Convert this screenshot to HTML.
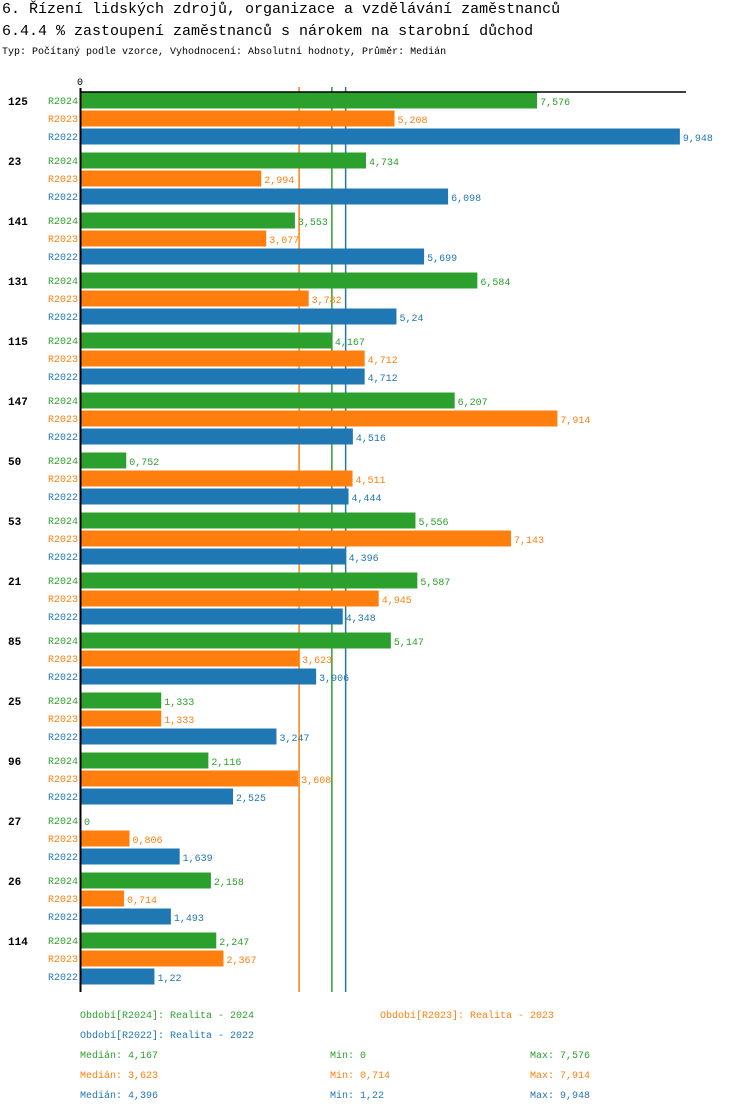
<!DOCTYPE html>
<html><head><meta charset="utf-8"><style>
body{margin:0;background:#fff;font-family:"Liberation Mono",monospace;}
svg text{font-family:"Liberation Mono",monospace;}
</style></head><body>
<svg id="c" width="750" height="1112" xmlns="http://www.w3.org/2000/svg">
<text x="2" y="13" font-size="15" fill="#000">6. Řízení lidských zdrojů, organizace a vzdělávání zaměstnanců</text>
<text x="2" y="35" font-size="15" fill="#000">6.4.4 % zastoupení zaměstnanců s nárokem na starobní důchod</text>
<text x="2" y="54" font-size="10" fill="#000">Typ: Počítaný podle vzorce, Vyhodnocení: Absolutní hodnoty, Průměr: Medián</text>
<g id="g"></g>
<text x="80" y="1018" font-size="10" fill="#2ca02c">Období[R2024]: Realita - 2024</text>
<text x="380" y="1018" font-size="10" fill="#ff7f0e">Období[R2023]: Realita - 2023</text>
<text x="80" y="1038" font-size="10" fill="#1f77b4">Období[R2022]: Realita - 2022</text>
<text x="80" y="1058" font-size="10" fill="#2ca02c">Medián: 4,167</text>
<text x="330" y="1058" font-size="10" fill="#2ca02c">Min: 0</text>
<text x="530" y="1058" font-size="10" fill="#2ca02c">Max: 7,576</text>
<text x="80" y="1078" font-size="10" fill="#ff7f0e">Medián: 3,623</text>
<text x="330" y="1078" font-size="10" fill="#ff7f0e">Min: 0,714</text>
<text x="530" y="1078" font-size="10" fill="#ff7f0e">Max: 7,914</text>
<text x="80" y="1098" font-size="10" fill="#1f77b4">Medián: 4,396</text>
<text x="330" y="1098" font-size="10" fill="#1f77b4">Min: 1,22</text>
<text x="530" y="1098" font-size="10" fill="#1f77b4">Max: 9,948</text>
</svg>
<script>
const categories=["125","23","141","131","115","147","50","53","21","85","25","96","27","26","114"];
const seriesNames=["R2024","R2023","R2022"];
const r2024=[7.576,4.734,3.553,6.584,4.167,6.207,0.752,5.556,5.587,5.147,1.333,2.116,0,2.158,2.247];
const r2023=[5.208,2.994,3.077,3.782,4.712,7.914,4.511,7.143,4.945,3.623,1.333,3.608,0.806,0.714,2.367];
const r2022=[9.948,6.098,5.699,5.24,4.712,4.516,4.444,4.396,4.348,3.906,3.247,2.525,1.639,1.493,1.22];
const medians=[4.167,3.623,4.396];
const colors=["#2ca02c","#ff7f0e","#1f77b4"];
const NS="http://www.w3.org/2000/svg";
const g=document.getElementById('g');
const x0=81,scale=60.2,top0=92;
const xs=v=>x0+v*scale;
function el(t,a){const e=document.createElementNS(NS,t);for(const k in a)e.setAttribute(k,a[k]);g.appendChild(e);return e;}
const fmt=v=>String(v).replace('.',',');
const data=[r2024,r2023,r2022];
const bottom=992;
medians.forEach((m,j)=>{
  const l=el('line',{x1:xs(m),x2:xs(m),y1:87,y2:bottom,stroke:colors[j],'stroke-width':1.5});
  
  
});
categories.forEach((c,i)=>{
  const gy=top0+i*60;
  const t=el('text',{x:8,y:gy+13,'font-size':11,'font-weight':'bold',fill:'#000'});t.textContent=c;
  
  
  data.forEach((s,j)=>{
    const y=gy+j*18;
    const l=el('text',{x:78,y:y+12,'font-size':10,fill:colors[j],'text-anchor':'end'});l.textContent=seriesNames[j];
    
    
    const b=el('rect',{x:x0,y:y+0.5,width:Math.max(0,s[i]*scale),height:16,fill:colors[j]});
    
    
    const v=el('text',{x:xs(s[i])+3,y:y+13,'font-size':10,fill:colors[j]});v.textContent=fmt(s[i]);
    
    
  });
});
const ax=el('line',{x1:80.5,x2:80.5,y1:88,y2:bottom,stroke:'#000','stroke-width':2});


const tx=el('line',{x1:80,x2:686,y1:92,y2:92,stroke:'#000','stroke-width':1.5});


const z=el('text',{x:80,y:85,'font-size':10,fill:'#000','text-anchor':'middle'});z.textContent='0';


</script>
</body></html>
